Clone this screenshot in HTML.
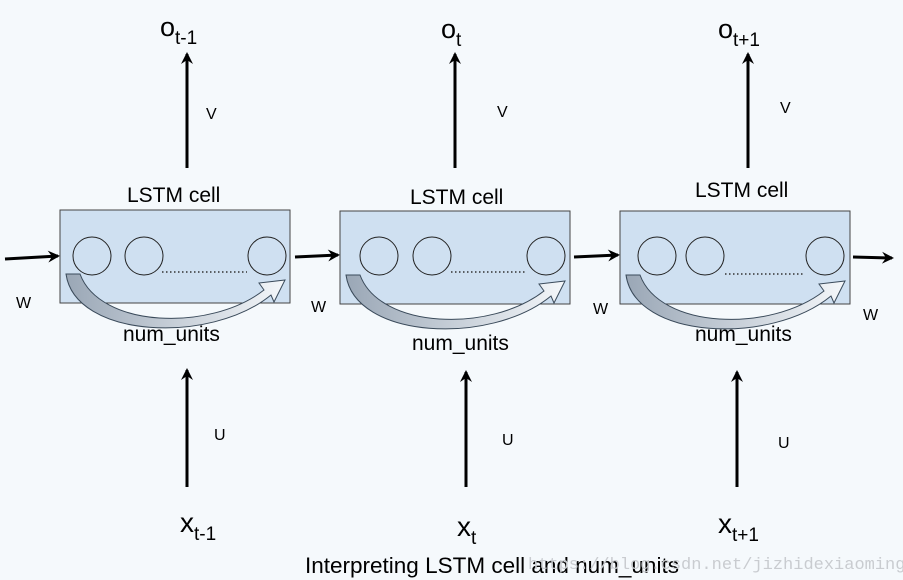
<!DOCTYPE html>
<html><head><style>
html,body{margin:0;padding:0;background:#f5f9fc;}
svg{display:block;font-family:"Liberation Sans",Arial,sans-serif;}
</style></head><body>
<svg width="903" height="580" viewBox="0 0 903 580" xmlns="http://www.w3.org/2000/svg">
<defs>
<marker id="ah" markerWidth="12" markerHeight="12" refX="10" refY="6" orient="auto" markerUnits="userSpaceOnUse">
<path d="M0,0 L12,6 L0,12 L4,6 Z" fill="#000"/>
</marker>
<linearGradient id="g" x1="0" x2="1" y1="0" y2="0">
<stop offset="0" stop-color="#9aa7b6"/><stop offset="1" stop-color="#f4f7fa"/>
</linearGradient>
<g id="cell">
<rect x="0" y="0" width="230" height="93" fill="#cfe0f1" stroke="#444" stroke-width="1"/>
<path d="M6,64 L20,64 C40,118 150,122 204,80 L199,73 L225,70 L214,92 L211,85 C150,135 15,128 6,64 Z" fill="url(#g)" stroke="#3a4a5a" stroke-width="1"/>
</g>
</defs>
<rect width="903" height="580" fill="#f5f9fc"/>

<use href="#cell" x="60" y="210"/>
<use href="#cell" x="340" y="211"/>
<use href="#cell" x="620" y="211"/>

<g fill="none" stroke="#222" stroke-width="1">
<circle cx="92" cy="256" r="19"/><circle cx="144" cy="256" r="19"/><circle cx="267" cy="256" r="19"/>
<circle cx="379" cy="256" r="19"/><circle cx="432" cy="256" r="19"/><circle cx="546" cy="256" r="19"/>
<circle cx="657" cy="256" r="19"/><circle cx="705" cy="256" r="19"/><circle cx="825" cy="256" r="19"/>
</g>
<g stroke="#333" stroke-width="1.5" stroke-dasharray="1.5,2.5">
<line x1="162" y1="272" x2="247" y2="272"/>
<line x1="451" y1="272" x2="526" y2="272"/>
<line x1="725" y1="274" x2="805" y2="274"/>
</g>

<g stroke="#000" stroke-width="3" marker-end="url(#ah)">
<line x1="187" y1="168" x2="187" y2="54"/>
<line x1="455" y1="168" x2="455" y2="54"/>
<line x1="748" y1="168" x2="748" y2="54"/>
<line x1="187" y1="487" x2="187" y2="370"/>
<line x1="466" y1="487" x2="466" y2="372"/>
<line x1="737" y1="487" x2="737" y2="372"/>
<line x1="5" y1="259" x2="58" y2="256"/>
<line x1="295" y1="257" x2="338" y2="255"/>
<line x1="574" y1="257" x2="618" y2="255"/>
<line x1="853" y1="257" x2="892" y2="258"/>
</g>

<g fill="#000">
<text x="160" y="36" font-size="27">o<tspan font-size="19" dy="8">t-1</tspan></text>
<text x="441" y="38" font-size="27">o<tspan font-size="19" dy="8">t</tspan></text>
<text x="718" y="38" font-size="27">o<tspan font-size="19" dy="8">t+1</tspan></text>
<text x="206" y="119" font-size="16">V</text>
<text x="497" y="117" font-size="16">V</text>
<text x="780" y="113" font-size="16">V</text>
<text x="127" y="202" font-size="21">LSTM cell</text>
<text x="410" y="204" font-size="21">LSTM cell</text>
<text x="695" y="197" font-size="21">LSTM cell</text>
<text x="123" y="341" font-size="21">num_units</text>
<text x="412" y="350" font-size="21">num_units</text>
<text x="695" y="341" font-size="21">num_units</text>
<text x="16" y="308" font-size="16">W</text>
<text x="311" y="312" font-size="16">W</text>
<text x="593" y="314" font-size="16">W</text>
<text x="863" y="320" font-size="16">W</text>
<text x="214" y="440" font-size="16">U</text>
<text x="502" y="445" font-size="16">U</text>
<text x="778" y="448" font-size="16">U</text>
<text x="180" y="532" font-size="28">x<tspan font-size="19" dy="8">t-1</tspan></text>
<text x="457" y="536" font-size="28">x<tspan font-size="19" dy="8">t</tspan></text>
<text x="718" y="533" font-size="28">x<tspan font-size="19" dy="8">t+1</tspan></text>
<text x="305" y="573" font-size="22.5">Interpreting LSTM cell and num_units</text>
</g>
<text x="528" y="569" font-size="17" fill="#c9ccd0" font-family="Liberation Mono,monospace">https://blog.csdn.net/jizhidexiaoming</text>
</svg>
</body></html>
